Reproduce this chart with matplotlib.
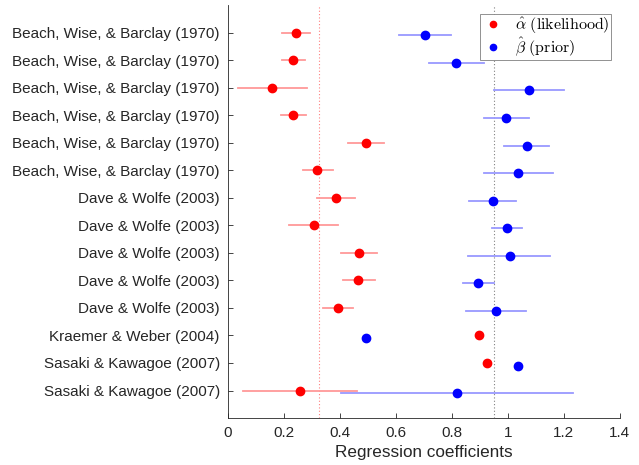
import matplotlib
matplotlib.use("Agg")
import matplotlib.pyplot as plt
import numpy as np

plt.rcParams['mathtext.fontset'] = 'cm'
plt.rcParams['font.family'] = ['Liberation Sans', 'DejaVu Sans']

studies = ["Beach, Wise, & Barclay (1970)"] * 6 + ["Dave & Wolfe (2003)"] * 5 + \
          ["Kraemer & Weber (2004)", "Sasaki & Kawagoe (2007)", "Sasaki & Kawagoe (2007)"]

alpha_hat = [0.242, 0.233, 0.156, 0.233, 0.492, 0.319, 0.385, 0.307, 0.468, 0.465, 0.392, 0.898, 0.926, 0.258]
alpha_lo = [0.193, 0.194, 0.035, 0.190, 0.429, 0.268, 0.318, 0.219, 0.404, 0.411, 0.338, np.nan, np.nan, 0.052]
alpha_hi = [0.292, 0.275, 0.281, 0.277, 0.557, 0.375, 0.454, 0.394, 0.531, 0.525, 0.446, np.nan, np.nan, 0.462]

beta_hat = [0.704, 0.816, 1.075, 0.994, 1.067, 1.035, 0.945, 0.998, 1.006, 0.893, 0.957, 0.492, 1.037, 0.817]
beta_lo = [0.611, 0.719, 0.949, 0.915, 0.987, 0.914, 0.862, 0.944, 0.857, 0.839, 0.849, np.nan, np.nan, 0.402]
beta_hi = [0.796, 0.913, 1.199, 1.076, 1.147, 1.160, 1.030, 1.051, 1.152, 0.949, 1.065, np.nan, np.nan, 1.231]

alpha_mean_line = 0.326
beta_mean_line = 0.949

fig = plt.figure(figsize=(6.39, 4.65), dpi=100)
ax = fig.add_axes([0.357, 0.101, 0.613, 0.888])

n = len(studies)
pos = np.arange(1, n + 1)
pos_b = pos + 0.1

ax.axvline(alpha_mean_line, color='#ff8080', ls=(0, (1, 2)), lw=0.8, zorder=1)
ax.axvline(beta_mean_line, color='#808080', ls=(0, (1, 2)), lw=0.8, zorder=1)

for i in range(n):
    if not np.isnan(alpha_lo[i]):
        ax.plot([alpha_lo[i], alpha_hi[i]], [pos[i], pos[i]], color='#ff9999', lw=1.3, zorder=2)
    if not np.isnan(beta_lo[i]):
        ax.plot([beta_lo[i], beta_hi[i]], [pos_b[i], pos_b[i]], color='#9999ff', lw=1.3, zorder=2)

ax.plot(alpha_hat, pos, 'o', color='red', ms=6, zorder=3, lw=0,
        label=r'$\hat{\alpha}\ \mathrm{(likelihood)}$')
ax.plot(beta_hat, pos_b, 'o', color='blue', ms=6, zorder=3, lw=0,
        label=r'$\hat{\beta}\ \mathrm{(prior)}$')

ax.set_xlim(0, 1.4)
ax.set_ylim(15, 0)
ax.set_xticks(np.arange(0, 1.41, 0.2))
ax.set_xticklabels(['0', '0.2', '0.4', '0.6', '0.8', '1', '1.2', '1.4'])
ax.set_yticks(pos)
ax.set_yticklabels(studies)

for s in ['top', 'right']:
    ax.spines[s].set_visible(False)
for s in ['left', 'bottom']:
    ax.spines[s].set_color('#262626')
    ax.spines[s].set_linewidth(0.6)

ax.tick_params(direction='in', length=3.5, width=0.6, colors='#262626', labelsize=11)
ax.tick_params(axis='y', pad=6)
ax.tick_params(axis='x', pad=6)
ax.set_xlabel('Regression coefficients', fontsize=12.3, color='#262626', labelpad=3)

leg = ax.legend(loc='upper right', bbox_to_anchor=(0.99, 0.99), fontsize=11.5, markerscale=0.75,
                handlelength=1.4, handletextpad=0.7, borderpad=0.1, labelspacing=-0.05,
                borderaxespad=0.3, fancybox=False, framealpha=1, edgecolor='#808080')
leg.get_frame().set_linewidth(0.6)

fig.savefig('out.png', dpi=100)
